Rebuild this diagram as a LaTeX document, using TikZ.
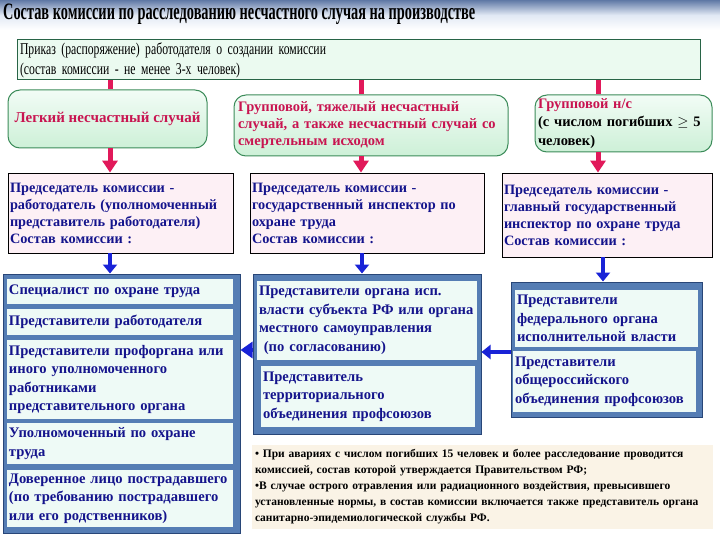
\documentclass[tikz,border=0pt]{standalone}
\usepackage{fontspec}
\setmainfont{Liberation Serif}
\newfontfamily\titlefont[FakeStretch=0.61]{Liberation Serif}
\newfontfamily\condfont[FakeStretch=0.71]{Liberation Serif}
\usetikzlibrary{arrows.meta}
\definecolor{titletop}{RGB}{95,120,165}
\definecolor{titlemid}{RGB}{225,232,244}
\definecolor{topfill}{RGB}{235,250,240}
\definecolor{topborder}{RGB}{40,100,70}
\definecolor{rndtop}{RGB}{242,252,246}
\definecolor{rndbot}{RGB}{205,240,215}
\definecolor{rndborder}{RGB}{60,140,90}
\definecolor{crimsontxt}{RGB}{200,20,80}
\definecolor{redarrow}{RGB}{225,25,90}
\definecolor{pinkfill}{RGB}{253,240,245}
\definecolor{navytxt}{RGB}{20,20,140}
\definecolor{bluearrow}{RGB}{25,35,215}
\definecolor{groupfill}{RGB}{85,125,180}
\definecolor{groupborder}{RGB}{40,70,120}
\definecolor{cellfill}{RGB}{238,250,246}
\definecolor{notefill}{RGB}{250,243,230}
\tikzset{
  topbox/.style={draw=topborder, line width=1pt, fill=topfill, inner xsep=3pt, inner ysep=0pt,
    align=left, font=\condfont\fontsize{16.5}{20}\selectfont, text=black},
  rndbox/.style={draw=rndborder, line width=1pt, top color=rndtop, bottom color=rndbot,
    rounded corners=12pt, inner xsep=4pt, inner ysep=0pt,
    font=\bfseries\fontsize{14.5}{17}\selectfont, text=crimsontxt},
  pinkbox/.style={draw=black, line width=0.8pt, fill=pinkfill, inner xsep=2pt, inner ysep=0pt,
    align=left, font=\bfseries\fontsize{14.3}{17}\selectfont, text=navytxt},
  groupbox/.style={draw=groupborder, line width=1pt, fill=groupfill, inner sep=0pt},
  cellbox/.style={fill=cellfill, inner xsep=2pt, inner ysep=0pt, align=left,
    font=\bfseries\fontsize{14.6}{18.5}\selectfont, text=navytxt},
  notebox/.style={fill=notefill, inner xsep=3pt, inner ysep=0pt, align=left,
    font=\bfseries\fontsize{11.5}{16}\selectfont, text=black},
  redline/.style={draw=redarrow, line width=5pt},
  redarr/.style={draw=redarrow, line width=5pt, -{Triangle[width=15pt,length=12pt]}},
  bluearr/.style={draw=bluearrow, line width=4pt, -{Triangle[width=14pt,length=9pt]}},
  bluehead/.style={draw=bluearrow, line width=4pt, -{Triangle[width=16pt,length=12pt]}},
  bluearrs/.style={draw=bluearrow, line width=4pt, -{Triangle[width=14pt,length=9pt]}},
}
\begin{document}
\begin{tikzpicture}[x=1pt,y=-1pt]
\useasboundingbox (0,0) rectangle (720,540);
\fill[white] (0,0) rectangle (720,540);
% title bar
\shade[top color=titletop, bottom color=white, middle color=titlemid] (0,0) rectangle (720,30);
\node[anchor=west, inner sep=0pt, font=\titlefont\bfseries\fontsize{23.5}{23.5}\selectfont] (title) at (3,14)
  {Состав комиссии по расследованию несчастного случая на производстве};
% top box
\node[topbox, minimum width=683pt, minimum height=40pt, text width=677pt] (top) at (358.5,60)
  {Приказ (распоряжение) работодателя о создании комиссии\\(состав комиссии - не менее 3-х человек)};
% rounded boxes
\node[rndbox, minimum width=199pt, minimum height=58pt, align=center, font=\bfseries\fontsize{15}{17}\selectfont] (c1) at (107.5,119)
  {Легкий несчастный случай};
\node[rndbox, minimum width=272pt, minimum height=61pt, text width=266pt, align=left] (c2) at (371,125.5)
  {Групповой, тяжелый несчастный\\случай, а также несчастный случай со\\смертельным исходом};
\node[rndbox, minimum width=177pt, minimum height=57pt, text width=171pt, align=left, inner xsep=3pt,
  font=\bfseries\fontsize{14.5}{18.5}\selectfont] (c3) at (623.5,123.5)
  {Групповой н/с\\\textcolor{black}{(с числом погибших $\geq$ 5}\\\textcolor{black}{человек)}};
% pink boxes
\node[pinkbox, minimum width=225pt, minimum height=80pt, text width=221pt] (p1) at (120.5,213)
  {Председатель комиссии -\\работодатель (уполномоченный\\представитель работодателя)\\Состав комиссии :};
\node[pinkbox, minimum width=234pt, minimum height=80pt, text width=230pt] (p2) at (367,213)
  {Председатель комиссии -\\государственный инспектор по\\охране труда\\Состав комиссии :};
\node[pinkbox, minimum width=210pt, minimum height=84pt, text width=206pt] (p3) at (607,215)
  {Председатель комиссии -\\главный государственный\\инспектор по охране труда\\Состав комиссии :};
% group boxes
\node[groupbox, minimum width=237pt, minimum height=259pt] (g1) at (121.5,403.5) {};
\node[groupbox, minimum width=228pt, minimum height=160pt] (g2) at (367,354) {};
\node[groupbox, minimum width=191pt, minimum height=135pt] (g3) at (606.5,349.5) {};
% left cells
\node[cellbox, minimum width=226pt, minimum height=25pt, text width=222pt] (l1) at (120,291.5)
  {Специалист по охране труда};
\node[cellbox, minimum width=226pt, minimum height=26pt, text width=222pt] (l2) at (120,322)
  {Представители работодателя};
\node[cellbox, minimum width=226pt, minimum height=79pt, text width=222pt] (l3) at (120,379.5)
  {Представители профоргана или\\иного уполномоченного\\работниками\\представительного органа};
\node[cellbox, minimum width=226pt, minimum height=41pt, text width=222pt] (l4) at (120,443.5)
  {Уполномоченный по охране\\труда};
\node[cellbox, minimum width=226pt, minimum height=57pt, text width=222pt] (l5) at (120,498.5)
  {Доверенное лицо пострадавшего\\(по требованию пострадавшего\\или его родственников)};
% middle cells
\node[cellbox, minimum width=220pt, minimum height=79pt, text width=216pt] (m1) at (367,320.5)
  {Представители органа исп.\\власти субъекта РФ или органа\\местного самоуправления\\\ (по согласованию)};
\node[cellbox, minimum width=214pt, minimum height=61pt, text width=210pt] (m2) at (368,396.5)
  {Представитель\\территориального\\объединения профсоюзов};
% right cells
\node[cellbox, minimum width=183pt, minimum height=57pt, text width=179pt] (r1) at (606.5,318.5)
  {Представители\\федерального органа\\исполнительной власти};
\node[cellbox, minimum width=183pt, minimum height=61pt, text width=179pt] (r2) at (604.5,381.5)
  {Представители\\общероссийского\\объединения профсоюзов};
% note
\node[notebox, minimum width=461pt, minimum height=84pt, text width=455pt] (note) at (482.5,487)
  {• При авариях с числом погибших 15 человек и более расследование проводится\\
   комиссией, состав которой утверждается Правительством РФ;\\
   •В случае острого отравления или радиационного воздействия, превысившего\\
   установленные нормы, в состав комиссии включается также представитель органа\\
   санитарно-эпидемиологической службы РФ.};
% arrow columns
\coordinate (xa) at (110,0);
\coordinate (xb) at (361,0);
\coordinate (xc) at (598,0);
\coordinate (xd) at (362,0);
\coordinate (xe) at (603,0);
\coordinate (ya) at (0,350);
\coordinate (yb) at (0,352);
% red connectors
\draw[redline] (top.south -| xa) -- (c1.north -| xa);
\draw[redline] (top.south -| xb) -- (c2.north -| xb);
\draw[redline] (top.south -| xc) -- (c3.north -| xc);
\draw[redarr] (c1.south -| xa) -- (p1.north -| xa);
\draw[redarr] (c2.south -| xb) -- (p2.north -| xb);
\draw[redarr] (c3.south -| xc) -- (p3.north -| xc);
% blue connectors
\draw[bluearr] (p1.south -| xa) -- (g1.north -| xa);
\draw[bluearr] (p2.south -| xd) -- (g2.north -| xd);
\draw[bluearr] (p3.south -| xe) -- (g3.north -| xe);
\draw[bluehead] (g2.west |- ya) -- (g1.east |- ya);
\draw[bluearrs] (g3.west |- yb) -- (g2.east |- yb);
\end{tikzpicture}
\end{document}
